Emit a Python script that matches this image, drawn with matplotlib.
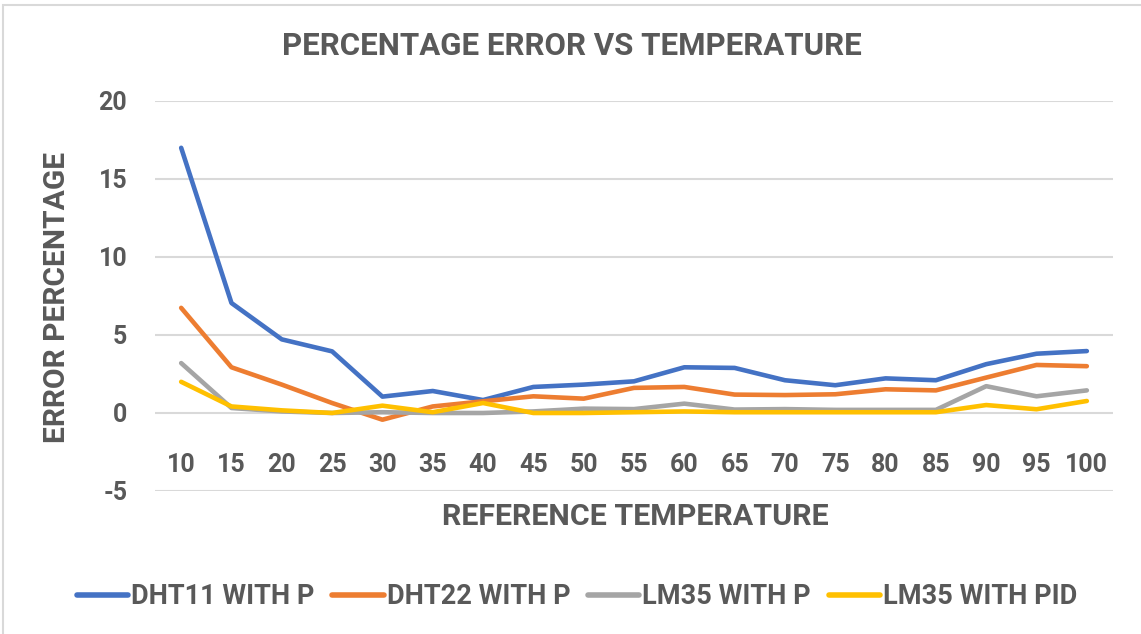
import matplotlib
matplotlib.use("Agg")
import matplotlib.pyplot as plt
from matplotlib.patches import Rectangle

temps = [10, 15, 20, 25, 30, 35, 40, 45, 50, 55, 60, 65, 70, 75, 80, 85, 90, 95, 100]
dht11_p = [17.0, 7.05, 4.72, 3.95, 1.05, 1.41, 0.83, 1.67, 1.82, 2.03, 2.93, 2.89, 2.1, 1.78, 2.22, 2.1, 3.13, 3.8, 3.97]
dht22_p = [6.74, 2.93, 1.82, 0.64, -0.43, 0.42, 0.75, 1.07, 0.92, 1.61, 1.67, 1.18, 1.15, 1.2, 1.52, 1.45, 2.27, 3.08, 3.0]
lm35_p = [3.2, 0.32, 0.1, 0.0, 0.05, 0.0, 0.0, 0.1, 0.28, 0.25, 0.6, 0.22, 0.25, 0.2, 0.2, 0.2, 1.72, 1.07, 1.45]
lm35_pid = [2.0, 0.42, 0.17, 0.0, 0.47, 0.05, 0.64, 0.0, 0.0, 0.05, 0.1, 0.05, 0.05, 0.05, 0.05, 0.05, 0.51, 0.24, 0.77]

series = [
    ("DHT11 WITH P", dht11_p, "#4472C4"),
    ("DHT22 WITH P", dht22_p, "#ED7D31"),
    ("LM35 WITH P", lm35_p, "#A5A5A5"),
    ("LM35 WITH PID", lm35_pid, "#FFC000"),
]
yticks = [-5, 0, 5, 10, 15, 20]

plt.rcParams['font.family'] = ['Roboto', 'DejaVu Sans']
plt.rcParams['font.weight'] = 'bold'
plt.rcParams['axes.unicode_minus'] = False
TXT = "#595959"

fig = plt.figure(figsize=(11.41, 6.34), dpi=100)
W, H = 1141, 634
ax = fig.add_axes([155 / W, 1 - 491 / H, (1113 - 155) / W, (491 - 101) / H])

fig.patches.append(Rectangle((3 / W, -0.01), 1.0, 1 - 5 / H + 0.01, transform=fig.transFigure,
                             fill=False, edgecolor="#d9d9d9", lw=1.5))

x = list(range(len(temps)))
for name, vals, col in series:
    ax.plot(x, vals, color=col, lw=3.3, label=name, solid_capstyle='round', solid_joinstyle='round')

ax.set_ylim(-5, 20)
ax.set_xlim(-0.52, len(temps) - 0.48)
ax.set_yticks(yticks)
ax.yaxis.grid(True, color="#d9d9d9", lw=1.5)
ax.set_axisbelow(True)
for s in ["top", "right", "left"]:
    ax.spines[s].set_visible(False)
ax.spines['bottom'].set_position(('data', 0))
ax.spines['bottom'].set_visible(False)
ax.set_xticks(x)
ax.set_xticklabels([str(t) for t in temps])
ax.tick_params(axis='x', length=0, pad=29, labelsize=18, labelcolor=TXT)
ax.tick_params(axis='y', length=0, pad=20, labelsize=18, labelcolor=TXT)

fig.text(572 / W, 1 - 46 / H, "PERCENTAGE ERROR VS TEMPERATURE", ha='center', va='center',
         fontsize=22.5, color=TXT, fontweight='bold')
fig.text(635 / W, 1 - 517 / H, "REFERENCE TEMPERATURE", ha='center', va='center',
         fontsize=21.9, color=TXT, fontweight='bold')
fig.text(57 / W, 1 - 297 / H, "ERROR PERCENTAGE", ha='center', va='center', rotation=90,
         fontsize=21.6, color=TXT, fontweight='bold')

leg = fig.legend(loc='center', bbox_to_anchor=(577 / W, 1 - 597 / H), ncol=4, frameon=False,
                 fontsize=19.5, handlelength=1.9, handletextpad=0.1, columnspacing=0.66)
for t in leg.get_texts():
    t.set_color(TXT)
for l in leg.get_lines():
    l.set_linewidth(4)

fig.savefig("out.png", dpi=100)
